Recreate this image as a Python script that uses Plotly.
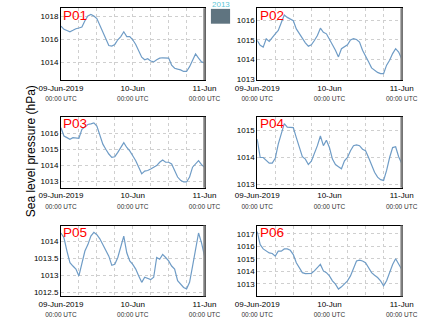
import plotly.graph_objects as go
import pandas as pd

times = pd.date_range("2019-06-09 00:00", "2019-06-11 00:00", freq="1h")

p01 = [1017.17, 1016.89, 1016.78, 1016.67, 1016.80, 1016.94, 1017.00, 1017.08, 1017.64, 1018.06,
       1018.19, 1018.06, 1017.83, 1017.22, 1016.61, 1015.97, 1015.47, 1015.42, 1015.56, 1015.97,
       1016.25, 1016.67, 1016.25, 1016.25, 1015.97, 1015.56, 1015.00, 1014.44, 1014.22, 1014.31,
       1014.11, 1014.03, 1014.22, 1014.36, 1014.39, 1014.39, 1014.36, 1013.75, 1013.47, 1013.39,
       1013.33, 1013.19, 1013.19, 1013.61, 1014.17, 1014.72, 1014.36, 1014.03, 1013.94]
p02 = [1014.97, 1014.72, 1014.63, 1015.06, 1014.92, 1015.14, 1015.31, 1015.48, 1015.93, 1016.27,
       1016.15, 1016.07, 1015.98, 1015.56, 1015.31, 1015.09, 1014.85, 1014.68, 1014.75, 1014.97,
       1015.22, 1015.60, 1015.39, 1015.31, 1015.06, 1014.75, 1014.47, 1014.13, 1014.55, 1014.63,
       1014.75, 1015.00, 1015.06, 1015.02, 1014.89, 1014.47, 1014.21, 1013.88, 1013.57, 1013.44,
       1013.34, 1013.28, 1013.28, 1013.71, 1013.96, 1014.30, 1014.55, 1014.38, 1014.04]
p03 = [1016.35, 1015.83, 1015.73, 1015.63, 1015.73, 1015.69, 1015.69, 1016.25, 1016.41, 1016.56,
       1016.60, 1016.66, 1016.46, 1015.83, 1015.32, 1015.00, 1014.70, 1014.49, 1014.53, 1014.80,
       1015.11, 1015.42, 1015.11, 1014.90, 1014.59, 1014.28, 1013.87, 1013.45, 1013.62, 1013.66,
       1013.76, 1013.87, 1013.97, 1014.18, 1014.32, 1014.18, 1014.18, 1014.07, 1013.66, 1013.25,
       1013.04, 1012.94, 1012.94, 1013.25, 1013.87, 1014.07, 1014.28, 1014.03, 1013.87]
p04 = [1014.68, 1014.00, 1014.00, 1013.88, 1013.79, 1013.79, 1013.97, 1014.50, 1014.87, 1015.26,
       1015.13, 1015.11, 1015.11, 1014.74, 1014.37, 1014.03, 1013.94, 1013.74, 1013.86, 1014.13,
       1014.44, 1014.80, 1014.44, 1014.64, 1014.37, 1013.94, 1013.74, 1013.66, 1013.58, 1013.88,
       1014.00, 1014.25, 1014.44, 1014.47, 1014.44, 1014.31, 1014.25, 1014.00, 1013.70, 1013.45,
       1013.27, 1013.18, 1013.15, 1013.52, 1014.00, 1014.37, 1014.40, 1014.03, 1013.79]
p05 = [1014.24, 1014.10, 1013.71, 1013.37, 1013.27, 1013.18, 1012.98, 1013.37, 1013.71, 1013.90,
       1014.15, 1014.26, 1014.19, 1014.07, 1013.90, 1013.76, 1013.56, 1013.29, 1013.32, 1013.52,
       1013.85, 1014.15, 1013.66, 1013.42, 1013.32, 1013.18, 1012.98, 1012.79, 1012.94, 1012.91,
       1012.87, 1012.94, 1013.52, 1013.47, 1013.61, 1013.52, 1013.42, 1013.27, 1013.18, 1012.84,
       1012.74, 1012.64, 1012.60, 1012.79, 1013.27, 1013.76, 1014.24, 1013.95, 1013.56]
p06 = [1017.18, 1016.13, 1015.79, 1015.61, 1015.47, 1015.42, 1015.21, 1015.61, 1015.61, 1015.79,
       1015.79, 1015.68, 1015.34, 1014.68, 1014.29, 1013.89, 1013.82, 1013.82, 1013.84, 1014.03,
       1014.29, 1014.55, 1014.03, 1013.89, 1013.63, 1013.24, 1012.97, 1012.58, 1012.76, 1013.03,
       1013.24, 1013.63, 1014.29, 1014.82, 1014.89, 1014.82, 1014.68, 1014.29, 1013.89, 1013.68,
       1013.50, 1013.24, 1012.84, 1013.24, 1013.89, 1014.55, 1015.00, 1014.55, 1014.16]

names = ["P01", "P02", "P03", "P04", "P05", "P06"]
series = [p01, p02, p03, p04, p05, p06]
yranges = [[1012.44, 1018.74], [1012.95, 1016.62], [1012.58, 1017.04],
           [1012.88, 1015.51], [1012.38, 1014.46], [1012.0, 1017.66]]
yticks = [[1014, 1016, 1018], [1013, 1014, 1015, 1016], [1013, 1014, 1015, 1016],
          [1013, 1014, 1015], [1012.5, 1013, 1013.5, 1014], [1013, 1014, 1015, 1016, 1017]]
day_labels = {0: "09-Jun-2019", 24: "10-Jun", 48: "11-Jun"}

W, H = 435, 327
cols_px = [(42.7, 200.0), (257.7, 416.0)]
rows_px = [(8.3, 81.0), (118.3, 190.0), (228.3, 300.0)]

fig = go.Figure()
tickvals = list(times[::6])
ticktext = []
for i in range(0, 49, 6):
    if i in day_labels:
        ticktext.append(day_labels[i] + "<br><span style='font-size:6.5px;color:#333'>00:00 UTC</span>")
    else:
        ticktext.append("")

shapes = []
annotations = []
for k in range(6):
    r, c = divmod(k, 2)
    x0, x1 = cols_px[c]
    yt, yb = rows_px[r]
    xa = "xaxis" if k == 0 else f"xaxis{k+1}"
    ya = "yaxis" if k == 0 else f"yaxis{k+1}"
    xr = "x" if k == 0 else f"x{k+1}"
    yr = "y" if k == 0 else f"y{k+1}"
    fig.add_trace(go.Scatter(x=times, y=series[k], mode="lines",
                             line=dict(color="#6f9cc6", width=1.2),
                             xaxis=xr, yaxis=yr, showlegend=False, hoverinfo="skip"))
    fig.layout[xa] = dict(domain=[x0 / W, x1 / W], anchor=yr,
                          range=[times[0], times[-1]],
                          tickmode="array", tickvals=tickvals, ticktext=ticktext,
                          tickfont=dict(family="Liberation Sans, Arial", size=8, color="#000"),
                          showgrid=True, gridcolor="#cfcfcf", griddash="dot", gridwidth=1,
                          showline=True, linecolor="#000", linewidth=1, mirror=True,
                          ticks="", zeroline=False, tickangle=0)
    fig.layout[ya] = dict(domain=[1 - yb / H, 1 - yt / H], anchor=xr,
                          range=yranges[k], tickmode="array", tickvals=yticks[k],
                          ticktext=[("%g" % v) for v in yticks[k]],
                          tickfont=dict(family="Liberation Sans, Arial", size=8, color="#000"),
                          showgrid=True, gridcolor="#cfcfcf", griddash="dot", gridwidth=1,
                          showline=True, linecolor="#000", linewidth=1, mirror=True,
                          ticks="", zeroline=False)
    shapes.append(dict(type="line", xref="paper", yref="paper",
                       x0=x1 / W, x1=x1 / W, y0=1 - yb / H, y1=1 - yt / H,
                       line=dict(color="#808080", width=2.5)))
    annotations.append(dict(text=names[k], xref="paper", yref="paper",
                            x=(x0 + 0.5) / W, y=1 - (yt + 7) / H, xanchor="left", yanchor="middle",
                            showarrow=False,
                            font=dict(family="Liberation Sans, Arial", size=13.5, color="#ff0000")))

annotations.append(dict(text="Sea level pressure (hPa)", xref="paper", yref="paper",
                        x=10 / W, y=1 - 153 / H, textangle=-90, showarrow=False,
                        xanchor="center", yanchor="middle",
                        font=dict(family="Liberation Sans, Arial", size=12, color="#000")))

# small logo
shapes.append(dict(type="rect", xref="paper", yref="paper",
                   x0=207 / W, x1=228 / W, y0=1 - 24 / H, y1=1 - 9 / H,
                   fillcolor="#5f7480", line=dict(width=0)))
annotations.append(dict(text="2013", xref="paper", yref="paper",
                        x=217.5 / W, y=1 - 5 / H, showarrow=False, xanchor="center", yanchor="middle",
                        font=dict(family="Liberation Sans, Arial", size=8, color="#5ec6d6")))

fig.update_layout(width=W, height=H, margin=dict(l=0, r=0, t=0, b=0),
                  paper_bgcolor="#fff", plot_bgcolor="#fff",
                  shapes=shapes, annotations=annotations)
fig.write_html("out.html")
